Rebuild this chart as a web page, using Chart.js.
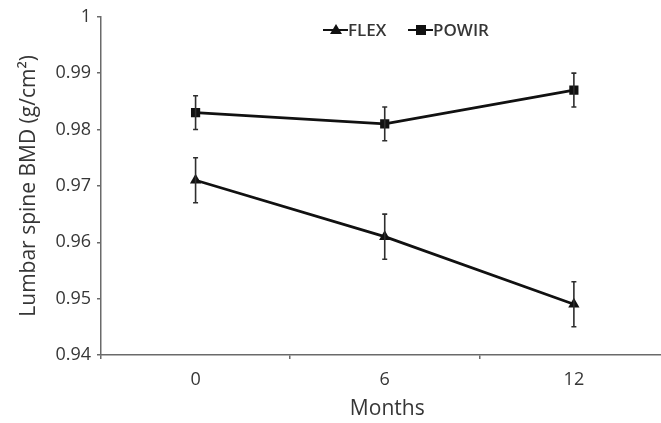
<!DOCTYPE html>
<html>
<head>
<meta charset="utf-8">
<script src="https://cdn.jsdelivr.net/npm/chart.js@4"></script>
<style>
  html, body { margin: 0; padding: 0; background: #ffffff; overflow: hidden; }
  #wrap { width: 661px; height: 423px; position: relative; overflow: hidden; }
  canvas { display: block; }
</style>
</head>
<body>
<div id="wrap"><canvas id="c" width="680" height="423"></canvas></div>
<script>
// ---- data ----
const months = [0, 6, 12];
const monthLabels = ['0', '6', '12'];
const flexValues = [0.971, 0.961, 0.949];
const flexErrors = [0.004, 0.004, 0.004];
const powirValues = [0.983, 0.981, 0.987];
const powirErrors = [0.003, 0.003, 0.003];
const yTicks = [0.94, 0.95, 0.96, 0.97, 0.98, 0.99, 1];
const seriesNames = ['FLEX', 'POWIR'];

const FONT = '"Open Sans", Lato, sans-serif';
const TEXT = '#363636';
const AXIS = '#6a6a6a';

const errorBars = {
  id: 'errorBars',
  afterDatasetsDraw(chart) {
    const ctx = chart.ctx;
    const ys = chart.scales.y;
    chart.data.datasets.forEach((ds, di) => {
      const meta = chart.getDatasetMeta(di);
      meta.data.forEach((pt, i) => {
        const v = ds.data[i].y, e = ds.errors[i];
        const x = pt.x;
        const yt = ys.getPixelForValue(v + e);
        const yb = ys.getPixelForValue(v - e);
        ctx.save();
        ctx.strokeStyle = '#2e2e2e';
        ctx.lineWidth = 1.6;
        ctx.beginPath();
        ctx.moveTo(x, yt); ctx.lineTo(x, yb);
        ctx.moveTo(x - 2.5, yt); ctx.lineTo(x + 2.5, yt);
        ctx.moveTo(x - 2.5, yb); ctx.lineTo(x + 2.5, yb);
        ctx.stroke();
        ctx.restore();
      });
    });
  }
};

const customLegend = {
  id: 'customLegend',
  afterDraw(chart) {
    const ctx = chart.ctx;
    const items = [
      { x: 323, ds: chart.data.datasets[0] },
      { x: 408, ds: chart.data.datasets[1] }
    ];
    const y = 30;
    ctx.save();
    items.forEach(it => {
      ctx.strokeStyle = '#111';
      ctx.lineWidth = 2;
      ctx.beginPath();
      ctx.moveTo(it.x, y); ctx.lineTo(it.x + 25, y);
      ctx.stroke();
      ctx.fillStyle = '#111';
      const cx = it.x + 13;
      if (it.ds.pointStyle === 'triangle') {
        ctx.beginPath();
        ctx.moveTo(cx, y - 6); ctx.lineTo(cx + 6, y + 4); ctx.lineTo(cx - 6, y + 4);
        ctx.closePath(); ctx.fill();
      } else {
        ctx.fillRect(cx - 5, y - 5, 10, 10);
      }
      ctx.fillStyle = TEXT;
      ctx.font = '600 17px ' + FONT;
      ctx.textBaseline = 'middle';
      ctx.textAlign = 'left';
      ctx.fillText(it.ds.label, it.x + 25, y + 1);
    });
    ctx.restore();
  }
};

new Chart(document.getElementById('c'), {
  type: 'line',
  data: {
    datasets: [
      {
        label: seriesNames[0],
        data: months.map((m, i) => ({ x: m, y: flexValues[i] })),
        errors: flexErrors,
        borderColor: '#111', backgroundColor: '#111',
        borderWidth: 2.7, pointStyle: 'triangle', pointRadius: 6.5,
        pointBorderWidth: 0
      },
      {
        label: seriesNames[1],
        data: months.map((m, i) => ({ x: m, y: powirValues[i] })),
        errors: powirErrors,
        borderColor: '#111', backgroundColor: '#111',
        borderWidth: 2.7, pointStyle: 'rect', pointRadius: 6.5,
        pointBorderWidth: 0
      }
    ]
  },
  options: {
    responsive: false,
    animation: false,
    events: [],
    layout: { padding: { top: 15, right: 6, bottom: 0, left: 0 } },
    plugins: { legend: { display: false }, tooltip: { enabled: false } },
    scales: {
      x: {
        type: 'linear',
        min: -3, max: 15.16,
        afterBuildTicks: (s) => { s.ticks = months.map(v => ({ value: v })); },
        afterFit: (s) => { s.height = 68; },
        grid: { display: true, offset: true, drawOnChartArea: false, tickLength: 4, color: AXIS, lineWidth: 1.5 },
        border: { display: true, color: AXIS, width: 1.5 },
        ticks: {
          padding: 10, color: TEXT, font: { family: FONT, size: 18 },
          callback: (v) => monthLabels[months.indexOf(v)]
        },
        title: { display: true, text: 'Months', color: TEXT, font: { family: FONT, size: 21 }, padding: { top: 0, bottom: 1 } }
      },
      y: {
        type: 'linear',
        min: 0.94, max: 1,
        afterBuildTicks: (s) => { s.ticks = yTicks.map(v => ({ value: v })); },
        afterFit: (s) => { s.width = 101; },
        grid: { display: true, drawOnChartArea: false, tickLength: 4, color: AXIS, lineWidth: 1.5 },
        border: { display: true, color: AXIS, width: 1.5 },
        ticks: {
          padding: 6, color: TEXT, font: { family: FONT, size: 18 },
          callback: (v) => String(parseFloat(v.toFixed(2)))
        },
        title: { display: true, text: 'Lumbar spine BMD (g/cm²)', color: TEXT, font: { family: FONT, size: 21 }, padding: { top: 16, bottom: 0 } }
      }
    }
  },
  plugins: [errorBars, customLegend]
});
</script>
</body>
</html>
